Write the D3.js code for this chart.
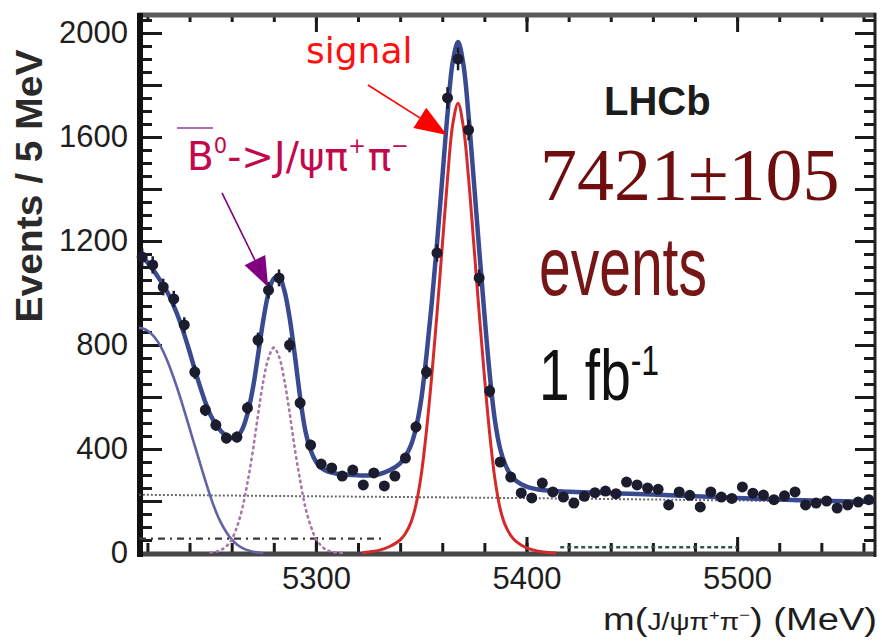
<!DOCTYPE html>
<html><head><meta charset="utf-8">
<script src="https://cdn.jsdelivr.net/npm/d3@7"></script>
<style>body{margin:0;background:#fff} svg{display:block}</style>
</head><body>
<svg id="c" width="882" height="643"></svg>
<script>
// ---- data ----
const binCenters = [5217.5,5222.5,5227.5,5232.5,5237.5,5242.5,5247.5,5252.5,5257.5,5262.5,
  5267.5,5272.5,5277.5,5282.5,5287.5,5292.5,5297.5,5302.5,5307.5,5312.5,
  5317.5,5322.5,5327.5,5332.5,5337.5,5342.5,5347.5,5352.5,5357.5,5362.5,
  5367.5,5372.5,5377.5,5382.5,5387.5,5392.5,5397.5,5402.5,5407.5,5412.5,
  5417.5,5422.5,5427.5,5432.5,5437.5,5442.5,5447.5,5452.5,5457.5,5462.5,
  5467.5,5472.5,5477.5,5482.5,5487.5,5492.5,5497.5,5502.5,5507.5,5512.5,
  5517.5,5522.5,5527.5,5532.5,5537.5,5542.5,5547.5,5552.5,5557.5,5562.5];
const binCounts = [1138,1108,1023,977,877,696,550,492,442,446,
  558,819,1011,1058,800,577,415,342,327,296,
  319,262,308,258,296,365,485,696,1154,1750,
  1900,1627,1058,623,350,292,231,212,269,235,
  215,192,218,232,238,228,273,262,250,245,
  185,235,222,177,235,215,210,254,230,223,
  205,220,235,185,192,200,173,185,196,205];

const fitMass = [5216,5217.5,5220,5222.5,5225,5227.5,5230,5232.5,5235,5237.5,5240,5242.5,5245,5247.5,5250,5252.5,5255,5257.5,5260,5262.5,5265,5267.5,5270,5272.5,5275,5277.5,5280,5282.5,5285,5287.5,5290,5292.5,5295,5297.5,5300,5302.5,5305,5307.5,5310,5315,5320,5325,5330,5335,5340,5342.5,5345,5347.5,5350,5352.5,5355,5357.5,5360,5362.5,5365,5367.5,5370,5372.5,5375,5377.5,5380,5382.5,5385,5387.5,5390,5392.5,5395,5400,5405,5410,5420,5440,5460,5480,5500,5520,5540,5565];
const fitTotal = [1148,1140,1118,1092,1062,1030,995,950,900,840,775,705,640,580,530,495,468,450,442,447,475,535,630,760,895,1000,1055,1062,1010,905,760,600,470,395,352,328,316,309,305,301,299,298,303,318,345,372,412,480,590,760,960,1190,1440,1690,1890,1965,1880,1680,1430,1170,920,690,510,400,338,300,278,255,245,240,236,230,225,218,212,206,201,196];

const sigMass = [5322,5325,5330,5335,5340,5342.5,5345,5347.5,5350,5352.5,5355,5357.5,5360,5362.5,5365,5367.5,5370,5372.5,5375,5377.5,5380,5382.5,5385,5387.5,5390,5392.5,5395,5400,5405,5410,5414];
const sigVals = [0,4,10,25,50,75,115,185,300,470,680,920,1180,1440,1650,1730,1640,1440,1185,925,680,460,285,170,105,68,45,20,8,2,0];

const b0Mass = [5250,5252.5,5255,5257.5,5260,5262.5,5265,5267.5,5270,5272.5,5275,5277.5,5280,5282.5,5285,5287.5,5290,5292.5,5295,5297.5,5300,5302.5,5305,5307.5,5310,5313];
const b0Vals = [2,5,12,26,52,100,170,270,390,530,660,750,790,755,665,540,400,280,175,105,55,28,12,5,2,0];

const prMass = [5216,5217.5,5220,5222.5,5225,5227.5,5230,5232.5,5235,5237.5,5240,5242.5,5245,5247.5,5250,5252.5,5255,5257.5,5260,5262.5,5265,5267.5,5270,5272.5,5275];
const prVals = [866,864,855,838,812,775,728,673,613,548,480,412,345,278,215,160,115,80,52,33,20,11,5,2,0];

const combMass = [5216,5300,5400,5500,5565];
const combVals = [224,218,211,202,196];

const otherMass = [5216,5333];
const otherVals = [55,55];

const greenMass = [5416,5500];
const greenVals = [22,22];

const yMajor = [0,200,400,600,800,1000,1200,1400,1600,1800,2000];
const yLabels = [0,400,800,1200,1600,2000];
const xLabels = [5300,5400,5500];

// annotation arrows in data coordinates: [startMass, startVal, tipMass, tipVal]
const arrowSignal = [5324.7,1800,5362.2,1608];
const arrowB0 = [5255.4,1385,5277.3,1023];

// ---- drawing ----
const svg = d3.select('#c');
const x = d3.scaleLinear().domain([5216,5565]).range([139,874]);
const y = d3.scaleLinear().domain([0,2073]).range([553,14]);

const fontSans = "'Liberation Sans', Arial, sans-serif";

function styleAxis(g){ g.select('.domain').remove(); g.selectAll('line').attr('stroke','#1a1a1a').attr('stroke-width',3); }
const yMinor = d3.range(0,2051,50);
svg.append('g').attr('transform','translate(140,0)')
  .call(d3.axisLeft(y).tickValues(yMinor).tickSizeInner(-12).tickFormat(''))
  .call(styleAxis);
const yl = svg.append('g').attr('transform','translate(140,0)')
  .call(d3.axisLeft(y).tickValues(yMajor).tickSizeInner(-22).tickPadding(12)
        .tickFormat(d => yLabels.includes(d) ? d : ''))
  .call(styleAxis);
yl.selectAll('text').attr('font-family',fontSans).attr('font-size',31).attr('fill','#1e1e1e');

svg.append('g').attr('transform','translate(875,0)')
  .call(d3.axisRight(y).tickValues(yMinor).tickSizeInner(-11).tickFormat(''))
  .call(styleAxis);
svg.append('g').attr('transform','translate(875,0)')
  .call(d3.axisRight(y).tickValues(yMajor).tickSizeInner(-20).tickFormat(''))
  .call(styleAxis);

const xMinor = d3.range(5220,5565,20);
svg.append('g').attr('transform','translate(0,553)')
  .call(d3.axisBottom(x).tickValues(xMinor).tickSizeInner(-10).tickFormat(''))
  .call(styleAxis);
const xl = svg.append('g').attr('transform','translate(0,553)')
  .call(d3.axisBottom(x).tickValues(xLabels).tickSizeInner(-16).tickPadding(14).tickFormat(d3.format('d')))
  .call(styleAxis);
xl.selectAll('text').attr('font-family',fontSans).attr('font-size',31).attr('fill','#1e1e1e');
svg.append('g').attr('transform','translate(0,15)')
  .call(d3.axisTop(x).tickValues(xMinor).tickSizeInner(-7).tickFormat(''))
  .call(styleAxis);
svg.append('g').attr('transform','translate(0,15)')
  .call(d3.axisTop(x).tickValues(xLabels).tickSizeInner(-17).tickFormat(''))
  .call(styleAxis);

// frame
svg.append('line').attr('x1',138).attr('x2',876).attr('y1',15).attr('y2',15).attr('stroke','#5a5a5a').attr('stroke-width',5);
svg.append('line').attr('x1',138).attr('x2',876).attr('y1',554).attr('y2',554).attr('stroke','#474747').attr('stroke-width',5);
svg.append('line').attr('x1',140).attr('x2',140).attr('y1',13).attr('y2',557).attr('stroke','#111').attr('stroke-width',6);
svg.append('line').attr('x1',875).attr('x2',875).attr('y1',13).attr('y2',557).attr('stroke','#222').attr('stroke-width',3);

const line = d3.line().curve(d3.curveCatmullRom.alpha(0.5));
function pts(ms, vs){ return ms.map((m,i)=>[x(m), y(vs[i])]); }

const plot = svg.append('g');
plot.append('path').attr('d', line(pts(combMass,combVals))).attr('fill','none')
  .attr('stroke','#6a6a6a').attr('stroke-width',2).attr('stroke-dasharray','2,2');
plot.append('path').attr('d', line(pts(otherMass,otherVals))).attr('fill','none')
  .attr('stroke','#3a3a3a').attr('stroke-width',2.2).attr('stroke-dasharray','7,5,2,5');
plot.append('path').attr('d', line(pts(greenMass,greenVals))).attr('fill','none')
  .attr('stroke','#2e5a46').attr('stroke-width',2.5).attr('stroke-dasharray','4,3');
plot.append('path').attr('d', line(pts(prMass,prVals))).attr('fill','none')
  .attr('stroke','#6262a6').attr('stroke-width',2.6);
plot.append('path').attr('d', line(pts(b0Mass,b0Vals))).attr('fill','none')
  .attr('stroke','#a877a8').attr('stroke-width',2.6).attr('stroke-dasharray','1.5,4.5').attr('stroke-linecap','round');
plot.append('path').attr('d', line(pts(sigMass,sigVals))).attr('fill','none')
  .attr('stroke','#d42a2a').attr('stroke-width',3);
plot.append('path').attr('d', line(pts(fitMass,fitTotal))).attr('fill','none')
  .attr('stroke','#3a4a90').attr('stroke-width',4.5);

const dp = plot.append('g');
binCenters.forEach((m,i)=>{
  const v = binCounts[i], e = Math.sqrt(v);
  dp.append('line').attr('x1',x(m)).attr('x2',x(m)).attr('y1',y(v-e)).attr('y2',y(v+e))
    .attr('stroke','#1b1c2e').attr('stroke-width',2.5);
  dp.append('circle').attr('cx',x(m)).attr('cy',y(v)).attr('r',5.5).attr('fill','#1b1c2e');
});

function arrow(a, color, headLen, headW){
  const x0=x(a[0]), y0=y(a[1]), x1=x(a[2]), y1=y(a[3]);
  const L=Math.hypot(x1-x0,y1-y0), ux=(x1-x0)/L, uy=(y1-y0)/L;
  const bx=x1-ux*headLen, by=y1-uy*headLen;
  svg.append('line').attr('x1',x0).attr('y1',y0).attr('x2',bx).attr('y2',by).attr('stroke',color).attr('stroke-width',1.6);
  svg.append('path').attr('d',`M${x1},${y1}L${bx-uy*headW/2},${by+ux*headW/2}L${bx+uy*headW/2},${by-ux*headW/2}Z`).attr('fill',color);
}
arrow(arrowSignal,'#ff0000',32,24);
arrow(arrowB0,'#800080',30,23);

// texts
svg.append('text').attr('transform','translate(42,186) rotate(-90)').attr('text-anchor','middle')
  .attr('font-family',fontSans).attr('font-weight','bold').attr('font-size',37).attr('fill','#2a2a2a')
  .attr('textLength',273).attr('lengthAdjust','spacingAndGlyphs').text('Events / 5 MeV');

const xt = svg.append('text').attr('x',603).attr('y',630).attr('font-family',fontSans).attr('font-size',31).attr('fill','#1e1e1e')
  .attr('textLength',274).attr('lengthAdjust','spacingAndGlyphs');
xt.append('tspan').text('m(');
xt.append('tspan').attr('font-size',23).text('J/ψπ');
xt.append('tspan').attr('font-size',15).attr('dy',-10).text('+');
xt.append('tspan').attr('font-size',23).attr('dy',10).text('π');
xt.append('tspan').attr('font-size',15).attr('dy',-10).text('−');
xt.append('tspan').attr('dy',10).text(')  (MeV)');

svg.append('text').attr('x',306).attr('y',63).attr('font-family',"'DejaVu Sans', sans-serif").attr('font-size',36)
  .attr('fill','#ff1010').text('signal');

const bt = svg.append('text').attr('x',187).attr('y',170).attr('font-family',"'DejaVu Sans', sans-serif").attr('font-size',39)
  .attr('fill','#c2094e').attr('textLength',222).attr('lengthAdjust','spacingAndGlyphs');
bt.append('tspan').text('B');
bt.append('tspan').attr('font-size',21).attr('dy',-17).text('0');
bt.append('tspan').attr('dy',17).text('->J/ψπ');
bt.append('tspan').attr('font-size',21).attr('dy',-17).text('+');
bt.append('tspan').attr('dy',17).attr('dx',2).text('π');
bt.append('tspan').attr('font-size',21).attr('dy',-17).text('−');
svg.append('line').attr('x1',177).attr('x2',213).attr('y1',128).attr('y2',128).attr('stroke','#9a3aa0').attr('stroke-width',1.6);

svg.append('text').attr('x',604).attr('y',115).attr('font-family',fontSans).attr('font-weight','bold').attr('font-size',40)
  .attr('fill','#1c1c1c').text('LHCb');
svg.append('text').attr('x',540).attr('y',200).attr('font-family',"'Liberation Serif', 'Times New Roman', serif").attr('font-size',74)
  .attr('fill','#6e0e0e').text('7421±105');
svg.append('text').attr('transform','translate(539,295) scale(1,1.45)').attr('font-family',fontSans).attr('font-size',57)
  .attr('fill','#761616').text('events');
const fb = svg.append('text').attr('transform','translate(539,400) scale(1,1.3)').attr('font-family',fontSans).attr('font-size',55)
  .attr('fill','#111');
fb.append('tspan').text('1 fb');
fb.append('tspan').attr('font-size',32).attr('dy',-19).text('-1');
</script>
</body></html>
